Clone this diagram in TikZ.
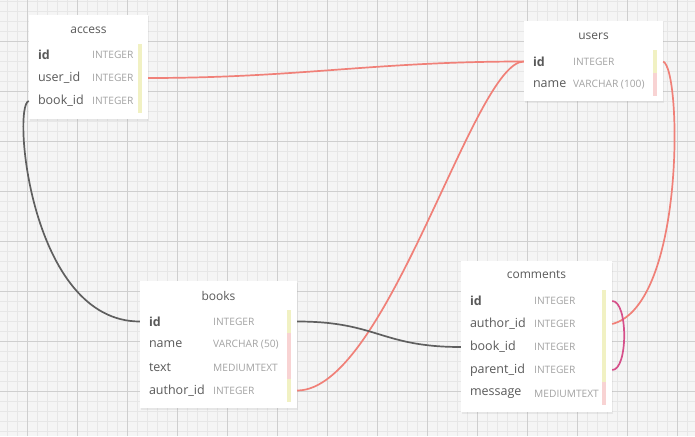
\documentclass[tikz,border=0pt]{standalone}
\usepackage{fontspec}
\setmainfont{Open Sans}
\usepackage{xcolor}
\usetikzlibrary{shadows}
\definecolor{gridbg}{HTML}{F5F5F5}
\definecolor{gridminor}{HTML}{E7E7E7}
\definecolor{gridmajor}{HTML}{CFCFCF}
\definecolor{fieldtext}{HTML}{595959}
\definecolor{typetext}{HTML}{A3A3A3}
\definecolor{keyyellow}{HTML}{F1F1C3}
\definecolor{keypink}{HTML}{F8D3D3}
\definecolor{relred}{HTML}{F08078}
\definecolor{relgray}{HTML}{5F5F5F}
\definecolor{relpink}{HTML}{D6508A}

\begin{document}
\begin{tikzpicture}[x=1pt,y=-1pt,
	tablebox/.style={fill=white,drop shadow={opacity=0.12,shadow xshift=1pt,shadow yshift=-1.5pt}},
	tabletitle/.style={text=fieldtext,font=\fontsize{12}{14}\selectfont,inner sep=0},
	field/.style={text=fieldtext,font=\fontsize{12.5}{14}\selectfont,inner xsep=9pt,inner ysep=0,minimum height=23pt,text width=#1,align=left},
	ftype/.style={text=typetext,font=\fontsize{10.2}{12}\selectfont,inner sep=0,anchor=west},
	rel/.style={line width=1.7pt,#1}]
		\useasboundingbox (0,0) rectangle (695,436);
		% grid
		\fill[gridbg] (0,0) rectangle (695,436);
		\foreach \x in {7,17,...,687} \draw[gridminor,line width=0.8pt] (\x,0) -- (\x,436);
		\foreach \y in {1,11,...,431} \draw[gridminor,line width=0.8pt] (0,\y) -- (695,\y);
		\foreach \x in {27,77,...,677} \draw[gridmajor,line width=0.8pt] (\x,0) -- (\x,436);
		\foreach \y in {41,91,...,391} \draw[gridmajor,line width=0.8pt] (0,\y) -- (695,\y);
		
		% access
		\fill[tablebox] (29,15) rectangle (148,119);
		\node[tabletitle] (access) at (88.5,30) {access};
		\node[field=101pt] (access-id) at (88.5,55) {\textbf{id}};
		\node[field=101pt] (access-userid) at (88.5,78) {user\_id};
		\node[field=101pt] (access-bookid) at (88.5,101) {book\_id};
		\node[ftype] (access-id-t) at (92,55) {INTEGER};
		\node[ftype] (access-userid-t) at (92,78) {INTEGER};
		\node[ftype] (access-bookid-t) at (92,101) {INTEGER};
		\fill[keyyellow] (138,44) rectangle (141.5,113);
		
		% users
		\fill[tablebox] (524,21) rectangle (663,101);
		\node[tabletitle] (users) at (593.5,36) {users};
		\node[field=121pt] (users-id) at (593.5,61.5) {\textbf{id}};
		\node[field=121pt] (users-name) at (593.5,84.5) {name};
		\node[ftype] (users-id-t) at (573,61.5) {INTEGER};
		\node[ftype] (users-name-t) at (573,84.5) {VARCHAR (100)};
		\fill[keyyellow] (653,50) rectangle (656.5,73);
		\fill[keypink] (653,73) rectangle (656.5,96);
		
		% books
		\fill[tablebox] (140,281) rectangle (297,408);
		\node[tabletitle] (books) at (218.5,296) {books};
		\node[field=139pt] (books-id) at (218.5,321.5) {\textbf{id}};
		\node[field=139pt] (books-name) at (218.5,344.5) {name};
		\node[field=139pt] (books-text) at (218.5,367.5) {text};
		\node[field=139pt] (books-authorid) at (218.5,390.5) {author\_id};
		\node[ftype] (books-id-t) at (213,321.5) {INTEGER};
		\node[ftype] (books-name-t) at (213,344.5) {VARCHAR (50)};
		\node[ftype] (books-text-t) at (213,367.5) {MEDIUMTEXT};
		\node[ftype] (books-authorid-t) at (213,390.5) {INTEGER};
		\fill[keyyellow] (287,310) rectangle (290.5,333);
		\fill[keypink] (287,333) rectangle (290.5,379);
		\fill[keyyellow] (287,379) rectangle (290.5,402);
		
		% comments
		\fill[tablebox] (461,261) rectangle (612,412);
		\node[tabletitle] (comments) at (536.5,275) {comments};
		\node[field=133pt] (comments-id) at (536.5,301) {\textbf{id}};
		\node[field=133pt] (comments-authorid) at (536.5,324) {author\_id};
		\node[field=133pt] (comments-bookid) at (536.5,347) {book\_id};
		\node[field=133pt] (comments-parentid) at (536.5,370) {parent\_id};
		\node[field=133pt] (comments-message) at (536.5,393.5) {message};
		\node[ftype] (comments-id-t) at (534,301) {INTEGER};
		\node[ftype] (comments-authorid-t) at (534,324) {INTEGER};
		\node[ftype] (comments-bookid-t) at (534,347) {INTEGER};
		\node[ftype] (comments-parentid-t) at (534,370) {INTEGER};
		\node[ftype] (comments-message-t) at (534,393.5) {MEDIUMTEXT};
		\fill[keyyellow] (602,290) rectangle (605.5,382);
		\fill[keypink] (602,382) rectangle (605.5,405);
		
		% relations
		\draw[rel=relred] (access-userid.east) .. controls +(150,0) and +(-150,0) .. (users-id.west);
		\draw[rel=relred] (books-authorid.east) .. controls +(90,0) and +(-50,0) .. (users-id.west);
		\draw[rel=relred] (users-id.east) .. controls (682,70) and (685,305) .. (comments-authorid.east);
		\draw[rel=relgray] (access-bookid.west) .. controls (12,105) and (30,321.5) .. (books-id.west);
		\draw[rel=relgray] (books-id.east) .. controls +(80,0) and +(-80,0) .. (comments-bookid.west);
		\draw[rel=relpink] (comments-id.east) .. controls +(16,0) and +(16,0) .. (comments-parentid.east);
	\end{tikzpicture}
\end{document}
